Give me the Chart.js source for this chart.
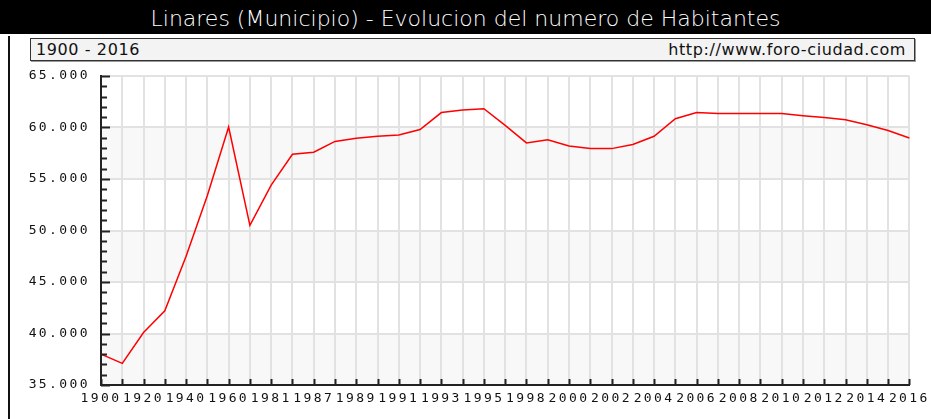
<!DOCTYPE html>
<html lang="es">
<head>
    <meta charset="UTF-8">
    <title>Linares (Municipio) - Evolucion del numero de Habitantes</title>
    <style>
        body {
            margin: 0;
            padding: 0;
            width: 931px;
            height: 419px;
            background: #fff;
            position: relative;
            overflow: hidden;
            font-family: "DejaVu Sans", sans-serif;
        }

        .title-bar {
            position: absolute;
            left: 0;
            top: 0;
            width: 931px;
            height: 34px;
            background: #000;
            color: #fff;
            font-size: 22px;
            font-weight: 300;
            line-height: 37px;
            text-align: center;
        }

        .sub-box {
            position: absolute;
            left: 30px;
            top: 38px;
            width: 883px;
            height: 21px;
            background: #f3f3f3;
            border: 1px solid #333;
            box-shadow: 1px 1px 0 #999;
            font-size: 16px;
            letter-spacing: 0.6px;
            line-height: 21px;
            color: #111;
        }

        .sub-box .left { position: absolute; left: 5px; }
        .sub-box .right { position: absolute; right: 8px; }

        .frame-line {
            position: absolute;
            left: 8px;
            top: 36px;
            width: 2px;
            height: 383px;
            background: #111;
        }

        #chartWrap {
            position: absolute;
            left: 0;
            top: 0;
            width: 931px;
            height: 419px;
        }
    </style>
</head>
<body>
    <div class="title-bar">Linares (Municipio) - Evolucion del numero de Habitantes</div>
    <div class="sub-box"><span class="left">1900 - 2016</span><span class="right">http://www.foro-ciudad.com</span></div>
    <div class="frame-line"></div>
    <div id="chartWrap"><canvas id="popChart" width="931" height="419"></canvas></div>

    <script src="https://cdn.jsdelivr.net/npm/chart.js"></script>
    <script>
        // years of each census point (odd positions have no label on the axis)
        const years = [1900, 1910, 1920, 1930, 1940, 1950, 1960, 1970, 1981, 1986,
                       1987, 1988, 1989, 1990, 1991, 1992, 1993, 1994, 1995, 1996,
                       1998, 1999, 2000, 2001, 2002, 2003, 2004, 2005, 2006, 2007,
                       2008, 2009, 2010, 2011, 2012, 2013, 2014, 2015, 2016];

        const habitantes = [38000, 37100, 40100, 42200, 47500, 53400, 60050, 50500, 54400, 57400,
                            57600, 58650, 58950, 59150, 59270, 59800, 61450, 61700, 61830, 60200,
                            58500, 58800, 58200, 57950, 57950, 58350, 59150, 60850, 61450, 61350,
                            61350, 61350, 61350, 61150, 60980, 60750, 60270, 59700, 58980];

        // labels printed under the x axis
        const xTickLabels = ['1900', '1920', '1940', '1960', '1981', '1987', '1989', '1991', '1993', '1995',
                             '1998', '2000', '2002', '2004', '2006', '2008', '2010', '2012', '2014', '2016'];

        const yMin = 35000;
        const yMax = 65000;
        const yMajor = 5000;
        const yMinor = 1000;

        function formatMiles(v) {
            return String(v).replace(/\B(?=(\d{3})+(?!\d))/g, '.');
        }

        // grey bands, spacing for the axis font, and inward tick marks
        const decorPlugin = {
            id: 'decor',
            beforeDraw(chart) {
                const ctx = chart.ctx;
                const area = chart.chartArea;
                const y = chart.scales.y;
                ctx.save();
                ctx.fillStyle = '#f8f8f8';
                for (let v = yMin; v < yMax; v += 2 * yMajor) {
                    const top = y.getPixelForValue(v + yMajor);
                    const bottom = y.getPixelForValue(v);
                    ctx.fillRect(area.left, top, area.right - area.left, bottom - top);
                }
                ctx.restore();
                ctx.letterSpacing = '2.4px';
            },
            afterDraw(chart) {
                const ctx = chart.ctx;
                const x = chart.scales.x;
                const y = chart.scales.y;
                const area = chart.chartArea;
                ctx.save();
                ctx.strokeStyle = '#222';
                ctx.lineWidth = 2;
                ctx.beginPath();
                for (let v = yMin; v <= yMax; v += yMinor) {
                    const py = Math.round(y.getPixelForValue(v)) + 0.5;
                    const len = (v % yMajor === 0) ? 9 : 6;
                    ctx.moveTo(area.left, py);
                    ctx.lineTo(area.left + len, py);
                }
                for (let i = 0; i < years.length; i++) {
                    const px = Math.round(x.getPixelForValue(i)) + 0.5;
                    ctx.moveTo(px, area.bottom);
                    ctx.lineTo(px, area.bottom - 6);
                }
                ctx.stroke();
                ctx.restore();
            }
        };

        const ctx = document.getElementById('popChart').getContext('2d');

        const chart = new Chart(ctx, {
            type: 'line',
            data: {
                labels: years.map(String),
                datasets: [{
                    label: 'Habitantes',
                    data: habitantes,
                    borderColor: '#ff0000',
                    borderWidth: 1.5,
                    pointRadius: 0,
                    tension: 0,
                    fill: false
                }]
            },
            options: {
                responsive: false,
                animation: false,
                layout: {
                    padding: { top: 76, right: 21, left: 0, bottom: 0 }
                },
                plugins: {
                    legend: { display: false },
                    tooltip: { enabled: false }
                },
                scales: {
                    x: {
                        offset: false,
                        grid: { color: '#e2e2e2', lineWidth: 2, drawTicks: false },
                        border: { color: '#222', width: 2 },
                        ticks: {
                            autoSkip: false,
                            maxRotation: 0,
                            minRotation: 0,
                            padding: 6,
                            color: '#111',
                            font: { family: 'DejaVu Sans Mono', size: 13 },
                            callback: function (val, i) {
                                return i % 2 === 0 ? xTickLabels[i / 2] : '';
                            }
                        },
                        afterFit: function (scale) { scale.height = 34; }
                    },
                    y: {
                        min: yMin,
                        max: yMax,
                        grid: { color: '#e2e2e2', lineWidth: 2, drawTicks: false },
                        border: { color: '#222', width: 2 },
                        ticks: {
                            stepSize: yMajor,
                            padding: 11,
                            color: '#111',
                            font: { family: 'DejaVu Sans Mono', size: 13 },
                            callback: function (v) { return formatMiles(v); }
                        },
                        afterFit: function (scale) { scale.width = 101; }
                    }
                }
            },
            plugins: [decorPlugin]
        });
    </script>
</body>
</html>
